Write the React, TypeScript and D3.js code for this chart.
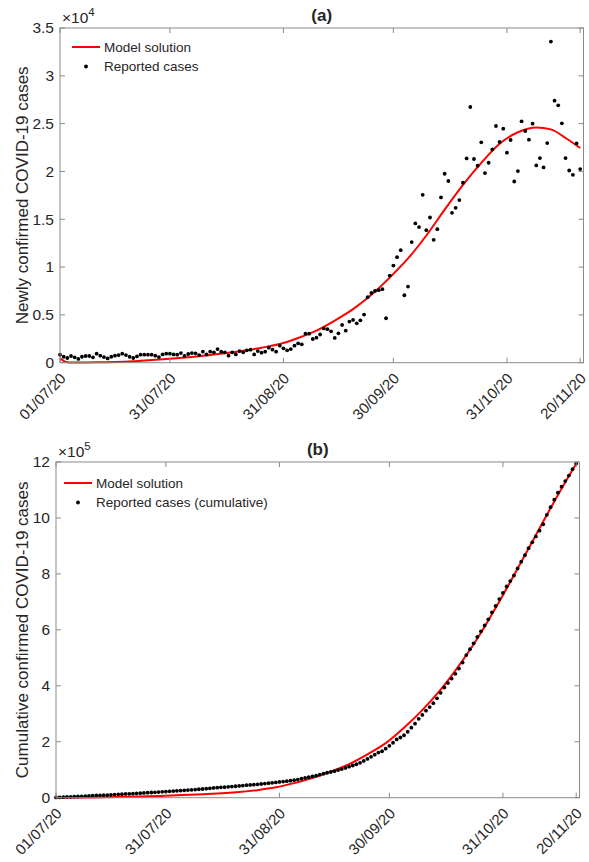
import React from 'react';
import * as d3 from 'd3';

// ---------- DATA ----------
const startDateLabel = '01/07/20';
const endDateLabel = '21/11/20';

// Daily newly confirmed cases, from 01/07/20, one value per day
const dailyReported = [
  830, 620, 490, 700, 560, 390, 620, 700, 700, 560,
  940, 730, 590, 450, 620, 730, 800, 940, 800, 620,
  490, 660, 840, 840, 840, 840, 730, 590, 870, 940,
  940, 870, 840, 1010, 700, 910, 1010, 980, 800, 1150,
  870, 1150, 1080, 1430, 1150, 1080, 730, 1080, 870, 1220,
  1080, 1290, 1360, 870, 1220, 1050, 1150, 1570, 1360, 1150,
  1780, 1500, 1290, 1430, 1780, 2020, 1920, 3030, 3030, 2480,
  2620, 2950, 3580, 3510, 3285, 2587, 3075, 3945, 3354, 4296,
  4470, 4122, 4436, 5029, 6845, 7300, 7508, 7580, 7685, 4646,
  9110, 10160, 11036, 11770, 7055, 7960, 12610, 14560, 14180, 17560,
  13860, 15185, 12850, 13968, 17280, 19760, 19000, 15675, 16200, 17005,
  18817, 21360, 26740, 21300, 20600, 23040, 19830, 20910, 22300, 24750,
  23080, 24470, 21960, 23290, 18950, 20040, 25240, 24230, 23320, 25000,
  20630, 21400, 20420, 22970, 33580, 27400, 26910, 25030, 21400, 20100,
  19650, 22930, 20250,
];

// Model solution (daily), read at selected days
const modelDailyDays = [0, 1, 2, 3, 5, 10, 15, 20, 25, 30, 35, 40, 45, 50, 55, 60, 65, 70, 75, 80, 85, 90, 95, 100, 105, 110, 115, 120, 125, 130, 134, 138, 142];
const modelDailyValues = [450, 200, 50, 15, 20, 40, 70, 150, 290, 420, 580, 760, 980, 1240, 1570, 1950, 2580, 3350, 4400, 5600, 7100, 8900, 10900, 13300, 16000, 18600, 20900, 22900, 24100, 24600, 24400, 23500, 22450];

// Model solution (cumulative), read at selected days
const modelCumDays = [0, 10, 20, 30, 40, 50, 55, 60, 65, 70, 75, 80, 85, 90, 95, 100, 105, 110, 115, 120, 125, 130, 135, 140, 142];
const modelCumValues = [0, 1000, 3000, 7000, 12000, 20000, 27000, 37000, 52000, 70000, 93000, 120000, 155000, 195000, 250000, 313000, 386000, 472000, 568000, 678000, 795000, 915000, 1035000, 1150000, 1194000];

const xTickLabels = ['01/07/20', '31/07/20', '31/08/20', '30/09/20', '31/10/20', '20/11/20'];
const yTicksTop = [0, 5000, 10000, 15000, 20000, 25000, 30000, 35000];
const yTicksBottom = [0, 200000, 400000, 600000, 800000, 1000000, 1200000];

// ---------- HELPERS ----------
const parse = d3.utcParse('%d/%m/%y');
const start = parse(startDateLabel) as Date;
const end = new Date((parse(endDateLabel) as Date).getTime() - 0.1 * 86400000);
const dayToDate = (d: number) => d3.utcDay.offset(start, d);
const cumulativeReported = Array.from(d3.cumsum(dailyReported));

const FONT = '"Liberation Sans", Arial, Helvetica, sans-serif';
const AXIS_COLOR = '#8a8a8a';
const TEXT_COLOR = '#262626';

type PanelProps = {
  box: { left: number; right: number; top: number; bottom: number };
  yMax: number;
  yTicks: number[];
  exponent: number;
  title: string;
  ylabel: string;
  points: number[];
  modelDays: number[];
  modelValues: number[];
  legendLabels: [string, string];
  legendPos: { x: number; y: number };
};

function Panel(p: PanelProps) {
  const { box } = p;
  const x = d3.scaleUtc().domain([start, end]).range([box.left, box.right]);
  const y = d3.scaleLinear().domain([0, p.yMax]).range([box.bottom, box.top]);
  const line = d3
    .line<number>()
    .x((_, i) => x(dayToDate(p.modelDays[i])))
    .y((v) => y(v))
    .curve(d3.curveMonotoneX);
  const tickLen = 5;
  const scale = Math.pow(10, p.exponent);
  const tickDates = xTickLabels.map((s) => parse(s) as Date);
  const cx = (box.left + box.right) / 2;
  const cy = (box.top + box.bottom) / 2;
  return (
    <g>
      {/* model line */}
      <path d={line(p.modelValues) || ''} fill="none" stroke="#ff0000" strokeWidth={2} />
      {/* reported points */}
      {p.points.map((v, i) => (
        <circle key={i} cx={x(dayToDate(i))} cy={y(v)} r={1.9} fill="#000" />
      ))}
      {/* axes box */}
      <rect x={box.left} y={box.top} width={box.right - box.left} height={box.bottom - box.top} fill="none" stroke={AXIS_COLOR} strokeWidth={1} />
      {/* x ticks */}
      {tickDates.map((d, i) => (
        <g key={'xt' + i}>
          <line x1={x(d)} x2={x(d)} y1={box.bottom} y2={box.bottom - tickLen} stroke={AXIS_COLOR} />
          <line x1={x(d)} x2={x(d)} y1={box.top} y2={box.top + tickLen} stroke={AXIS_COLOR} />
          <text
            transform={`translate(${x(d) + 3},${box.bottom + 13}) rotate(-45)`}
            textAnchor="end"
            dy="0.35em"
            fontSize={15}
            fontFamily={FONT}
            fill={TEXT_COLOR}
          >
            {xTickLabels[i]}
          </text>
        </g>
      ))}
      {/* y ticks */}
      {p.yTicks.map((v, i) => (
        <g key={'yt' + i}>
          <line x1={box.left} x2={box.left + tickLen} y1={y(v)} y2={y(v)} stroke={AXIS_COLOR} />
          <line x1={box.right} x2={box.right - tickLen} y1={y(v)} y2={y(v)} stroke={AXIS_COLOR} />
          <text x={box.left - 6} y={y(v)} dy="0.35em" textAnchor="end" fontSize={15.5} fontFamily={FONT} fill={TEXT_COLOR}>
            {String(v / scale)}
          </text>
        </g>
      ))}
      {/* exponent */}
      <text x={box.left + 2} y={box.top - 5} fontSize={15.5} fontFamily={FONT} fill={TEXT_COLOR}>
        ×10
        <tspan fontSize={11.5} dy={-7}>{String(p.exponent)}</tspan>
      </text>
      {/* title */}
      <text x={cx} y={box.top - 7} textAnchor="middle" fontSize={17} fontWeight="bold" fontFamily={FONT} fill={TEXT_COLOR}>
        {p.title}
      </text>
      {/* y label */}
      <text transform={`translate(28,${cy}) rotate(-90)`} textAnchor="middle" fontSize={17} fontFamily={FONT} fill={TEXT_COLOR}>
        {p.ylabel}
      </text>
      {/* legend */}
      <g transform={`translate(${p.legendPos.x},${p.legendPos.y})`}>
        <line x1={0} x2={28} y1={0} y2={0} stroke="#ff0000" strokeWidth={2} />
        <text x={32} y={0} dy="0.35em" fontSize={13.5} fontFamily={FONT} fill={TEXT_COLOR}>
          {p.legendLabels[0]}
        </text>
        <circle cx={14} cy={19.5} r={1.9} fill="#000" />
        <text x={32} y={19.5} dy="0.35em" fontSize={13.5} fontFamily={FONT} fill={TEXT_COLOR}>
          {p.legendLabels[1]}
        </text>
      </g>
    </g>
  );
}

export default function App() {
  return (
    <svg width={589} height={862} style={{ position: 'absolute', left: 0, top: 0, background: '#fff' }}>
      <rect width={589} height={862} fill="#fff" />
      <Panel
        box={{ left: 60, right: 583.5, top: 28, bottom: 362.7 }}
        yMax={35000}
        yTicks={yTicksTop}
        exponent={4}
        title="(a)"
        ylabel="Newly confirmed COVID-19 cases"
        points={dailyReported}
        modelDays={modelDailyDays}
        modelValues={modelDailyValues}
        legendLabels={['Model solution', 'Reported cases']}
        legendPos={{ x: 72, y: 47 }}
      />
      <Panel
        box={{ left: 56, right: 579.5, top: 462, bottom: 797.7 }}
        yMax={1200000}
        yTicks={yTicksBottom}
        exponent={5}
        title="(b)"
        ylabel="Cumulative confirmed COVID-19 cases"
        points={cumulativeReported}
        modelDays={modelCumDays}
        modelValues={modelCumValues}
        legendLabels={['Model solution', 'Reported cases (cumulative)']}
        legendPos={{ x: 64, y: 483 }}
      />
    </svg>
  );
}
